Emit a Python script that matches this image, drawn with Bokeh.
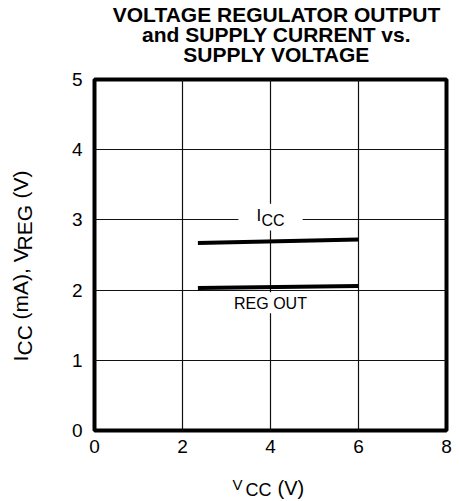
import math
from bokeh.plotting import figure
from bokeh.layouts import column, row
from bokeh.models import Range1d, FixedTicker, Label, BoxAnnotation
from bokeh.core.properties import value
from bokeh.embed import file_html
from bokeh.resources import INLINE

# ---- data ----
vcc = [2.35, 6.0]
icc = [2.67, 2.72]
vreg = [2.03, 2.06]
x_ticks = [0, 2, 4, 6, 8]
y_ticks = [0, 1, 2, 3, 4, 5]
title_lines = ["VOLTAGE REGULATOR OUTPUT", "and SUPPLY CURRENT vs.", "SUPPLY VOLTAGE"]

FONT = "Liberation Sans"
W, H = 458, 500
TITLE_H = 67          # height of the title strip
YLAB_W = 50           # width of the y-label strip
FW, FH = 352, 351     # frame size
CH_TOP, CH_LEFT, CH_RIGHT, CH_BOTTOM = 12, 44, 12, 30
CH_H = CH_TOP + FH + CH_BOTTOM
XLAB_H = H - TITLE_H - CH_H


def strip(w, h):
    f = figure(frame_width=w, frame_height=h, x_range=Range1d(0, w), y_range=Range1d(0, h),
               x_axis_type=None, y_axis_type=None, output_backend="svg", toolbar_location=None,
               min_border=0)
    f.outline_line_color = None
    f.background_fill_color = "white"
    f.border_fill_color = "white"
    f.grid.visible = False
    return f


def txt(f, x, y, text, size, bold=False, align="left", baseline="middle", angle=0):
    f.text(x=[x], y=[y], text=[text], text_font=value(FONT), text_font_size=f"{size}px",
           text_font_style="bold" if bold else "normal", text_align=align,
           text_baseline=baseline, text_color="black", angle=angle)


# ---- title strip (page y -> strip y = TITLE_H - page_y) ----
tf = strip(W, TITLE_H)
for i, t in enumerate(title_lines):
    txt(tf, 276, TITLE_H - (14 + i * 20), t, 21, bold=True, align="center")

# ---- chart ----
p = figure(frame_width=FW, frame_height=FH,
           x_range=Range1d(0, 8), y_range=Range1d(0, 5),
           output_backend="svg", toolbar_location=None,
           min_border_left=CH_LEFT, min_border_right=CH_RIGHT,
           min_border_top=CH_TOP, min_border_bottom=CH_BOTTOM)
p.background_fill_color = "white"
p.border_fill_color = "white"
p.outline_line_color = "black"
p.outline_line_width = 4

for ax, ticks in ((p.xaxis[0], x_ticks), (p.yaxis[0], y_ticks)):
    ax.ticker = FixedTicker(ticks=ticks)
    ax.axis_line_color = None
    ax.major_tick_line_color = None
    ax.minor_tick_line_color = None
    ax.major_tick_out = 0
    ax.major_tick_in = 0
    ax.major_label_text_font = FONT
    ax.major_label_text_font_size = "19px"
    ax.major_label_text_color = "black"
p.xaxis.major_label_standoff = 9
p.yaxis.major_label_standoff = 12

p.xgrid.ticker = FixedTicker(ticks=x_ticks)
p.ygrid.ticker = FixedTicker(ticks=y_ticks)
for g in (p.xgrid[0], p.ygrid[0]):
    g.grid_line_color = "#111111"
    g.grid_line_width = 1.2
    g.grid_line_alpha = 1

# white breaks in the grid behind the curve labels
p.add_layout(BoxAnnotation(left=3.27, right=4.73, bottom=2.85, top=3.23,
                           fill_color="white", fill_alpha=1, line_color=None))
p.add_layout(BoxAnnotation(left=3.16, right=4.84, bottom=1.67, top=1.97,
                           fill_color="white", fill_alpha=1, line_color=None))

p.line(vcc, icc, line_color="black", line_width=4)
p.line(vcc, vreg, line_color="black", line_width=4)


def lab(x, y, text, size, xo=0, yo=0, align="left"):
    p.add_layout(Label(x=x, y=y, text=text, x_offset=xo, y_offset=yo,
                       text_font=FONT, text_font_size=f"{size}px",
                       text_align=align, text_baseline="middle", text_color="black"))


lab(3.68, 3.0, "I", 17, yo=4)
lab(3.68, 3.0, "CC", 16, xo=5, yo=-1)
lab(4.0, 1.81, "REG OUT", 16, align="center")

# ---- y-label strip (page y -> strip y = TITLE_H + CH_H - page_y) ----
yf = strip(YLAB_W, CH_H)
base = TITLE_H + CH_H
rot = math.pi / 2
txt(yf, 20, base - 349, "I", 21, angle=rot)
txt(yf, 24, base - 343, "CC", 21, angle=rot)
txt(yf, 20, base - 307, "(mA), V", 21, angle=rot)
txt(yf, 24, base - 238, "REG", 21, angle=rot)
txt(yf, 20, base - 186, "(V)", 21, angle=rot)

# ---- x-label strip (page y -> strip y = H - page_y) ----
xf = strip(W, XLAB_H)
txt(xf, 232, H - 484, "V", 15)
txt(xf, 245, H - 489, "CC", 18)
txt(xf, 277, H - 487, "(V)", 20)

layout = column(tf, row(yf, p, spacing=0), xf, spacing=0)
open("out.html", "w").write(file_html(layout, INLINE))
